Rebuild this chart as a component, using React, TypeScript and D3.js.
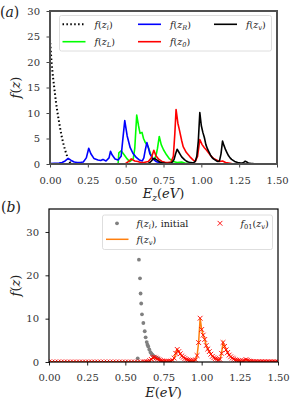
import { useEffect, useRef } from "react";
import * as d3 from "d3";

type Pt = [number, number];

const xTicks = [0, 0.25, 0.5, 0.75, 1.0, 1.25, 1.5];
const yTicksA = [0, 5, 10, 15, 20, 25, 30];
const yTicksB = [0, 10, 20, 30];

// panel (a) curves, [E (eV), f]
const fZi: Pt[] = [
  [0, 24.5], [0.01, 20], [0.02, 17], [0.03, 14.5], [0.04, 12], [0.05, 10], [0.06, 8.2],
  [0.07, 6.5], [0.08, 5], [0.09, 3.8], [0.1, 2.7], [0.11, 1.8], [0.12, 1.0], [0.13, 0.4], [0.14, 0.1],
];
const fZL: Pt[] = [
  [0.45, 0], [0.455, 2.2], [0.47, 2.6], [0.49, 1.8], [0.51, 1.0], [0.527, 0.45], [0.55, 1.0],
  [0.56, 3.0], [0.573, 9.6], [0.585, 7.5], [0.595, 6.0], [0.608, 6.2], [0.618, 5.0], [0.63, 4.2],
  [0.648, 3.4], [0.665, 2.0], [0.68, 1.1], [0.69, 0.9], [0.70, 1.6], [0.71, 3.0], [0.722, 5.4],
  [0.735, 3.8], [0.75, 2.8], [0.77, 1.8], [0.79, 1.0], [0.815, 0.5], [0.84, 0.3], [0.87, 0.4],
  [0.89, 0.2], [0.92, 0.1], [0.95, 0.05],
];
const fZR: Pt[] = [
  [0, 0.1], [0.03, 0.15], [0.06, 0.2], [0.08, 0.3], [0.1, 0.6], [0.12, 1.1], [0.14, 0.7],
  [0.16, 0.4], [0.18, 0.3], [0.2, 0.3], [0.22, 0.4], [0.24, 1.2], [0.256, 3.1], [0.27, 2.0],
  [0.29, 1.1], [0.317, 0.8], [0.335, 0.7], [0.35, 0.9], [0.37, 0.6], [0.39, 1.2], [0.40, 2.5],
  [0.41, 1.8], [0.43, 1.0], [0.45, 0.8], [0.47, 1.5], [0.48, 4.5], [0.494, 8.5], [0.51, 5.5],
  [0.53, 3.2], [0.55, 2.0], [0.57, 1.3], [0.59, 0.8], [0.61, 0.6], [0.62, 1.2], [0.63, 2.8],
  [0.64, 4.2], [0.65, 3.2], [0.66, 2.0], [0.68, 1.0], [0.70, 0.5], [0.72, 0.3], [0.75, 0.15],
  [0.8, 0.08], [0.9, 0.05], [1.0, 0.03], [1.5, 0],
];
const fZ0: Pt[] = [
  [0.5, 0.1], [0.52, 0.5], [0.537, 1.0], [0.56, 0.6], [0.58, 0.5], [0.6, 0.3], [0.62, 0.3],
  [0.65, 0.5], [0.67, 1.2], [0.686, 2.7], [0.70, 1.6], [0.72, 0.9], [0.74, 0.5], [0.76, 0.35],
  [0.78, 0.3], [0.8, 0.4], [0.815, 1.5], [0.825, 6.0], [0.833, 10.7], [0.845, 8.0], [0.855, 6.7],
  [0.87, 4.6], [0.88, 3.4], [0.9, 2.3], [0.925, 1.4], [0.945, 0.8], [0.96, 0.5], [0.975, 1.5],
  [0.99, 4.8], [1.005, 3.8], [1.02, 3.2], [1.035, 2.7], [1.06, 1.7], [1.08, 1.1], [1.1, 0.8],
  [1.12, 0.5], [1.14, 0.6], [1.16, 0.3], [1.2, 0.1], [1.25, 0.05], [1.3, 0],
];
// f(z_v) — same curve in (a) black and (b) orange / red markers
const fZv: Pt[] = [
  [0, 0], [0.02, 0], [0.04, 0], [0.06, 0], [0.08, 0], [0.1, 0], [0.12, 0], [0.14, 0], [0.16, 0],
  [0.18, 0], [0.2, 0], [0.22, 0], [0.24, 0], [0.26, 0], [0.28, 0], [0.3, 0], [0.32, 0], [0.34, 0],
  [0.36, 0], [0.38, 0], [0.4, 0], [0.42, 0], [0.44, 0], [0.46, 0], [0.48, 0], [0.5, 0], [0.52, 0],
  [0.54, 0], [0.56, 0], [0.58, 0], [0.6, 0], [0.62, 0],
  [0.63, 0], [0.64, 0.05], [0.65, 0.1], [0.66, 0.3], [0.67, 0.6], [0.68, 1.0], [0.69, 1.1],
  [0.7, 0.9], [0.71, 0.7], [0.72, 0.5], [0.73, 0.35], [0.74, 0.25], [0.75, 0.2], [0.76, 0.15],
  [0.77, 0.1], [0.78, 0.1], [0.79, 0.15], [0.8, 0.2], [0.81, 0.4], [0.82, 0.9], [0.83, 2.0],
  [0.84, 2.9], [0.85, 2.4], [0.86, 1.9], [0.87, 1.4], [0.88, 1.1], [0.89, 0.8], [0.9, 0.6],
  [0.91, 0.45], [0.92, 0.35], [0.93, 0.3], [0.94, 0.25], [0.95, 0.3], [0.96, 0.5], [0.97, 1.5],
  [0.98, 4.5], [0.99, 10.1], [1.0, 7.5], [1.01, 6.2], [1.02, 5.2], [1.03, 3.8], [1.04, 3.0],
  [1.05, 2.4], [1.06, 1.8], [1.07, 1.3], [1.08, 1.0], [1.09, 0.8], [1.1, 0.6], [1.11, 0.5],
  [1.12, 0.6], [1.13, 2.0], [1.14, 4.5], [1.15, 3.6], [1.16, 2.8], [1.17, 2.2], [1.18, 1.6],
  [1.19, 1.2], [1.2, 0.9], [1.21, 0.7], [1.22, 0.5], [1.23, 0.4], [1.24, 0.3], [1.25, 0.25],
  [1.26, 0.2], [1.27, 0.2], [1.28, 0.3], [1.29, 0.55], [1.3, 0.4], [1.31, 0.2], [1.32, 0.15],
  [1.33, 0.1], [1.34, 0.08], [1.35, 0.06], [1.36, 0.05], [1.37, 0.05], [1.38, 0.04], [1.39, 0.04],
  [1.4, 0.03], [1.41, 0.03], [1.42, 0.02], [1.43, 0.02], [1.44, 0.02], [1.45, 0.01], [1.46, 0.01],
  [1.47, 0.01], [1.48, 0.01], [1.49, 0], [1.5, 0],
];
// panel (b) gray dots, f(z_i) initial
const initE = [0.581, 0.589, 0.596, 0.6, 0.604, 0.609, 0.618, 0.627, 0.633, 0.64, 0.645, 0.65,
  0.657, 0.664, 0.67, 0.677, 0.685, 0.692, 0.7, 0.716];
const initV = [0.85, 23.6, 19.3, 15.8, 13.5, 11.0, 9.0, 7.1, 5.7, 4.6, 4.0, 3.6, 2.9, 2.3, 2.0,
  1.7, 1.4, 1.2, 1.0, 0.85];

const SERIF = "'DejaVu Serif', 'Liberation Serif', serif";

type Part = { t: string; it?: boolean; sub?: boolean };

const mathText = (parent: any, x: number, y: number, size: number, parts: Part[], anchor = "start") => {
  const t = parent.append("text")
    .attr("x", x).attr("y", y)
    .style("font-family", SERIF)
    .style("font-size", `${size}px`)
    .attr("text-anchor", anchor)
    .attr("fill", "#222");
  let down = false;
  parts.forEach((p) => {
    const ts = t.append("tspan").text(p.t).style("font-style", p.it ? "italic" : "normal");
    if (p.sub) {
      ts.style("font-size", `${size * 0.7}px`);
      if (!down) { ts.attr("dy", size * 0.22); down = true; }
    } else if (down) {
      ts.attr("dy", -size * 0.22); down = false;
    }
  });
  return t;
};

const fz = (sub: string): Part[] => [
  { t: "f", it: true }, { t: "(" }, { t: "z", it: true }, { t: sub, it: true, sub: true }, { t: ")" },
];

const App = () => {
  const svgRef = useRef<SVGSVGElement | null>(null);

  useEffect(() => {
    const svg = d3.select(svgRef.current);
    svg.selectAll("*").remove();

    // ---------- panel (a)
    const A = { left: 50, right: 277, top: 11, bottom: 164 };
    const xa = d3.scaleLinear().domain([0, 1.5]).range([A.left, A.right]);
    const ya = d3.scaleLinear().domain([0, 30]).range([A.bottom, A.top]);

    svg.append("clipPath").attr("id", "clipA").append("rect")
      .attr("x", A.left).attr("y", A.top).attr("width", A.right - A.left).attr("height", A.bottom - A.top);

    const lineA = d3.line<Pt>().x((d) => xa(d[0])).y((d) => ya(d[1]));
    const ga = svg.append("g").attr("clip-path", "url(#clipA)");
    const curvesA: [Pt[], string, string | null][] = [
      [fZi, "black", "1.5,2.4"],
      [fZL, "#00ff00", null],
      [fZR, "#0000ff", null],
      [fZ0, "#ff0000", null],
      [fZv, "black", null],
    ];
    curvesA.forEach(([data, color, dash]) => {
      ga.append("path")
        .datum(data)
        .attr("d", lineA)
        .attr("fill", "none")
        .attr("stroke", color)
        .attr("stroke-width", dash ? 2 : 1.6)
        .attr("stroke-dasharray", dash)
        .attr("stroke-linejoin", "round");
    });

    const axA = svg.append("g").attr("transform", `translate(0,${A.bottom})`)
      .call(d3.axisBottom(xa).tickValues(xTicks).tickFormat(d3.format(".2f")).tickSize(3.5).tickPadding(9).tickSizeOuter(0));
    const ayA = svg.append("g").attr("transform", `translate(${A.left},0)`)
      .call(d3.axisLeft(ya).tickValues(yTicksA).tickFormat(d3.format("d")).tickSize(3.5).tickPadding(6.5).tickSizeOuter(0));
    [axA, ayA].forEach((g) => {
      g.attr("font-family", null).attr("font-size", null);
      g.select(".domain").remove();
      g.selectAll("text").style("font-family", SERIF).style("font-size", "10px").attr("fill", "#333");
      g.selectAll("line").attr("stroke", "#444");
    });

    svg.append("rect")
      .attr("x", A.left).attr("y", A.top).attr("width", A.right - A.left).attr("height", A.bottom - A.top)
      .attr("fill", "none").attr("stroke", "#505050").attr("stroke-width", 2);

    // legend (a)
    const la = svg.append("g");
    la.append("rect").attr("x", 59.5).attr("y", 15.5).attr("width", 212).attr("height", 35.5)
      .attr("rx", 2).attr("fill", "white").attr("fill-opacity", 0.8).attr("stroke", "#d6d6d6").attr("stroke-width", 0.8);
    const legA: [number, number, string, string | null, string][] = [
      [62.5, 24.3, "black", "1.5,2.4", "i"],
      [62.5, 41.7, "#00ff00", null, "L"],
      [138, 24.3, "#0000ff", null, "R"],
      [138, 41.7, "#ff0000", null, "0"],
      [214, 24.3, "black", null, "v"],
    ];
    legA.forEach(([x, y, color, dash, sub]) => {
      la.append("line").attr("x1", x).attr("x2", x + 23).attr("y1", y).attr("y2", y)
        .attr("stroke", color).attr("stroke-width", dash ? 2 : 1.6).attr("stroke-dasharray", dash);
      mathText(la, x + 32, y + 3.5, 9.5, fz(sub));
    });

    mathText(svg, 163.5, 198, 13, [
      { t: "E", it: true }, { t: "z", it: true, sub: true }, { t: "(" }, { t: "eV", it: true }, { t: ")" },
    ], "middle");
    const yla = svg.append("g").attr("transform", `translate(19.5,${(A.top + A.bottom) / 2}) rotate(-90)`);
    mathText(yla, 0, 0, 13, [{ t: "f", it: true }, { t: "(" }, { t: "z", it: true }, { t: ")" }], "middle");
    mathText(svg, 0, 17, 14, [{ t: "(" }, { t: "a", it: true }, { t: ")" }]);

    // ---------- panel (b)
    const B = { left: 49, right: 278, top: 209, bottom: 362 };
    const xb = d3.scaleLinear().domain([0, 1.5]).range([B.left, B.right]);
    const yb = d3.scaleLinear().domain([0, 35.3]).range([B.bottom, B.top]);

    svg.append("clipPath").attr("id", "clipB").append("rect")
      .attr("x", B.left).attr("y", B.top).attr("width", B.right - B.left).attr("height", B.bottom - B.top);
    const gb = svg.append("g").attr("clip-path", "url(#clipB)");

    gb.selectAll("circle.init")
      .data(initE.map((e, i) => [e, initV[i]] as Pt))
      .enter()
      .append("circle")
      .attr("class", "init")
      .attr("cx", (d) => xb(d[0]))
      .attr("cy", (d) => yb(d[1]))
      .attr("r", 1.9)
      .attr("fill", "#808080");

    const lineB = d3.line<Pt>().x((d) => xb(d[0])).y((d) => yb(d[1]));
    gb.append("path").datum(fZv).attr("d", lineB)
      .attr("fill", "none").attr("stroke", "#ff7f0e").attr("stroke-width", 1.5);

    const xMark = (g: any, cx: number, cy: number, s: number) => {
      g.append("path")
        .attr("d", `M${cx - s},${cy - s}L${cx + s},${cy + s}M${cx - s},${cy + s}L${cx + s},${cy - s}`)
        .attr("stroke", "#ff0000").attr("stroke-width", 0.9).attr("fill", "none");
    };
    fZv.forEach((d) => xMark(gb, xb(d[0]), yb(d[1]), 2.4));

    const axB = svg.append("g").attr("transform", `translate(0,${B.bottom})`)
      .call(d3.axisBottom(xb).tickValues(xTicks).tickFormat(d3.format(".2f")).tickSize(3.5).tickPadding(8.5).tickSizeOuter(0));
    const ayB = svg.append("g").attr("transform", `translate(${B.left},0)`)
      .call(d3.axisLeft(yb).tickValues(yTicksB).tickFormat(d3.format("d")).tickSize(3.5).tickPadding(6.5).tickSizeOuter(0));
    [axB, ayB].forEach((g) => {
      g.attr("font-family", null).attr("font-size", null);
      g.select(".domain").remove();
      g.selectAll("text").style("font-family", SERIF).style("font-size", "10px").attr("fill", "#333");
      g.selectAll("line").attr("stroke", "#222");
    });

    svg.append("rect")
      .attr("x", B.left).attr("y", B.top).attr("width", B.right - B.left).attr("height", B.bottom - B.top)
      .attr("fill", "none").attr("stroke", "black").attr("stroke-width", 1.2);

    // legend (b)
    const lb = svg.append("g");
    lb.append("rect").attr("x", 102.5).attr("y", 215).attr("width", 170).attr("height", 34.5)
      .attr("rx", 2).attr("fill", "white").attr("fill-opacity", 0.8).attr("stroke", "#d6d6d6").attr("stroke-width", 0.8);
    lb.append("circle").attr("cx", 117).attr("cy", 223.3).attr("r", 1.9).attr("fill", "#808080");
    mathText(lb, 136.5, 226.8, 9.5, [...fz("i"), { t: ", initial" }]);
    lb.append("line").attr("x1", 106).attr("x2", 128.5).attr("y1", 239.3).attr("y2", 239.3)
      .attr("stroke", "#ff7f0e").attr("stroke-width", 1.5);
    mathText(lb, 136.5, 242.8, 9.5, fz("v"));
    xMark(lb, 220, 223.3, 2.4);
    mathText(lb, 240.5, 226.8, 9.5, [
      { t: "f", it: true }, { t: "01", sub: true }, { t: "(" }, { t: "z", it: true }, { t: "v", it: true, sub: true }, { t: ")" },
    ]);

    mathText(svg, 163.5, 397, 13, [{ t: "E", it: true }, { t: "(" }, { t: "eV", it: true }, { t: ")" }], "middle");
    const ylb = svg.append("g").attr("transform", `translate(19.5,${(B.top + B.bottom) / 2}) rotate(-90)`);
    mathText(ylb, 0, 0, 13, [{ t: "f", it: true }, { t: "(" }, { t: "z", it: true }, { t: ")" }], "middle");
    mathText(svg, 1, 212, 14, [{ t: "(" }, { t: "b", it: true }, { t: ")" }]);

    return () => {
      svg.selectAll("*").remove();
    };
  }, []);

  return (
    <svg
      ref={svgRef}
      width={291}
      height={403}
      style={{ position: "absolute", left: 0, top: 0, background: "white" }}
    ></svg>
  );
};

export default App;
